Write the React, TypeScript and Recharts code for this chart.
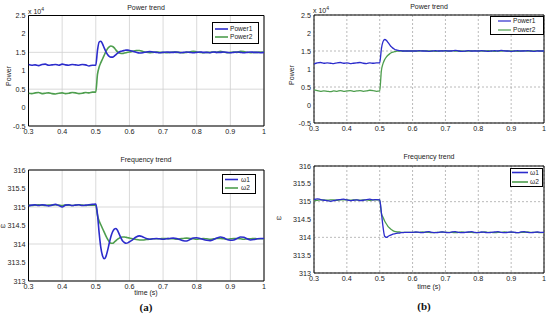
import React from "react";
import { LineChart, Line, XAxis, YAxis, CartesianGrid, ReferenceArea } from "recharts";

// time base (s): 10 ms steps, 5 ms around the step at 0.5 s
const time = [
  0.30, 0.31, 0.32, 0.33, 0.34, 0.35, 0.36, 0.37, 0.38, 0.39, 0.40, 0.41, 0.42, 0.43, 0.44, 0.45, 0.46, 0.47, 0.48, 0.49,
  0.500, 0.505, 0.510, 0.515, 0.520, 0.525, 0.530, 0.535, 0.540, 0.545, 0.550, 0.555, 0.560, 0.565, 0.570, 0.575, 0.580, 0.585, 0.590, 0.595, 0.600,
  0.61, 0.62, 0.63, 0.64, 0.65, 0.66, 0.67, 0.68, 0.69, 0.70, 0.71, 0.72, 0.73, 0.74, 0.75, 0.76, 0.77, 0.78, 0.79, 0.80,
  0.81, 0.82, 0.83, 0.84, 0.85, 0.86, 0.87, 0.88, 0.89, 0.90, 0.91, 0.92, 0.93, 0.94, 0.95, 0.96, 0.97, 0.98, 0.99, 1.00,
];

// power, x 10^4
const powerA1 = [
  1.17, 1.15, 1.16, 1.14, 1.17, 1.18, 1.15, 1.16, 1.17, 1.15, 1.18, 1.16, 1.15, 1.17, 1.16, 1.15, 1.17, 1.16, 1.13, 1.15,
  1.15, 1.55, 1.78, 1.80, 1.73, 1.62, 1.52, 1.44, 1.39, 1.37, 1.37, 1.40, 1.44, 1.48, 1.51, 1.53, 1.54, 1.55, 1.56, 1.56, 1.55,
  1.53, 1.50, 1.48, 1.49, 1.51, 1.52, 1.51, 1.50, 1.49, 1.50, 1.51, 1.50, 1.50, 1.51, 1.49, 1.50, 1.51, 1.50, 1.49, 1.50,
  1.51, 1.50, 1.50, 1.49, 1.51, 1.50, 1.50, 1.51, 1.50, 1.49, 1.50, 1.51, 1.50, 1.49, 1.50, 1.51, 1.50, 1.50, 1.49, 1.50,
];
const powerA2 = [
  0.39, 0.38, 0.40, 0.41, 0.38, 0.39, 0.40, 0.38, 0.37, 0.39, 0.40, 0.38, 0.39, 0.41, 0.40, 0.38, 0.39, 0.41, 0.40, 0.42,
  0.42, 0.90, 1.10, 1.22, 1.32, 1.42, 1.52, 1.60, 1.65, 1.67, 1.66, 1.62, 1.56, 1.51, 1.48, 1.47, 1.47, 1.48, 1.49, 1.50, 1.51,
  1.53, 1.55, 1.55, 1.52, 1.50, 1.49, 1.50, 1.51, 1.50, 1.50, 1.49, 1.50, 1.51, 1.50, 1.50, 1.49, 1.50, 1.51, 1.53, 1.51,
  1.50, 1.49, 1.50, 1.50, 1.51, 1.50, 1.53, 1.51, 1.49, 1.50, 1.51, 1.50, 1.53, 1.52, 1.50, 1.49, 1.50, 1.50, 1.51, 1.50,
];
const powerB1 = [
  1.14, 1.17, 1.18, 1.16, 1.17, 1.16, 1.15, 1.17, 1.18, 1.16, 1.17, 1.15, 1.16, 1.17, 1.18, 1.16, 1.15, 1.17, 1.16, 1.17,
  1.17, 1.55, 1.76, 1.82, 1.80, 1.74, 1.68, 1.62, 1.58, 1.55, 1.53, 1.52, 1.51, 1.51, 1.50, 1.50, 1.50, 1.50, 1.50, 1.50, 1.50,
  1.50, 1.51, 1.50, 1.50, 1.49, 1.50, 1.51, 1.50, 1.50, 1.51, 1.50, 1.50, 1.52, 1.50, 1.49, 1.50, 1.51, 1.50, 1.50, 1.50,
  1.51, 1.50, 1.49, 1.50, 1.51, 1.50, 1.52, 1.50, 1.50, 1.49, 1.50, 1.51, 1.50, 1.50, 1.51, 1.50, 1.49, 1.50, 1.50, 1.50,
];
const powerB2 = [
  0.42, 0.40, 0.38, 0.39, 0.38, 0.37, 0.39, 0.38, 0.40, 0.38, 0.39, 0.40, 0.38, 0.39, 0.40, 0.38, 0.39, 0.41, 0.40, 0.38,
  0.39, 0.95, 1.15, 1.26, 1.33, 1.38, 1.42, 1.45, 1.47, 1.48, 1.49, 1.50, 1.50, 1.50, 1.50, 1.50, 1.50, 1.50, 1.50, 1.50, 1.50,
  1.50, 1.50, 1.51, 1.50, 1.50, 1.50, 1.49, 1.50, 1.51, 1.50, 1.50, 1.51, 1.50, 1.50, 1.50, 1.49, 1.50, 1.50, 1.51, 1.50,
  1.50, 1.50, 1.51, 1.50, 1.49, 1.50, 1.50, 1.51, 1.50, 1.50, 1.50, 1.49, 1.50, 1.51, 1.50, 1.50, 1.50, 1.51, 1.50, 1.50,
];

// frequency (rad/s)
const freqA1 = [
  315.03, 315.05, 315.06, 315.04, 315.06, 315.05, 315.03, 315.05, 315.07, 315.04, 315.00, 315.05, 315.06, 315.04, 315.05, 315.06, 315.04, 315.05, 315.06, 315.07,
  315.08, 314.80, 314.30, 313.90, 313.68, 313.60, 313.66, 313.82, 314.02, 314.20, 314.33, 314.40, 314.42, 314.36, 314.26, 314.16, 314.08, 314.04, 314.02, 314.03, 314.06,
  314.12, 314.19, 314.22, 314.19, 314.15, 314.13, 314.14, 314.15, 314.14, 314.13, 314.14, 314.15, 314.16, 314.15, 314.12, 314.09, 314.08, 314.12, 314.16, 314.17,
  314.15, 314.12, 314.10, 314.09, 314.12, 314.16, 314.19, 314.17, 314.12, 314.10, 314.11, 314.15, 314.19, 314.18, 314.14, 314.11, 314.12, 314.14, 314.15, 314.15,
];
const freqA2 = [
  315.05, 315.04, 315.05, 315.06, 315.05, 315.04, 315.05, 315.05, 315.06, 315.05, 315.04, 315.05, 315.05, 315.04, 315.05, 315.06, 315.05, 315.04, 315.05, 315.05,
  315.05, 314.78, 314.62, 314.52, 314.42, 314.32, 314.22, 314.13, 314.06, 314.02, 314.02, 314.05, 314.09, 314.13, 314.16, 314.18, 314.19, 314.19, 314.18, 314.17, 314.16,
  314.14, 314.12, 314.11, 314.11, 314.12, 314.13, 314.14, 314.14, 314.14, 314.15, 314.15, 314.14, 314.14, 314.13, 314.14, 314.15, 314.16, 314.15, 314.14, 314.13,
  314.14, 314.15, 314.14, 314.13, 314.14, 314.15, 314.15, 314.14, 314.13, 314.14, 314.15, 314.15, 314.14, 314.13, 314.14, 314.14, 314.15, 314.14, 314.14, 314.14,
];
const freqB1 = [
  315.06, 315.08, 315.06, 315.04, 315.03, 315.01, 315.03, 315.05, 315.06, 315.07, 315.05, 315.03, 315.04, 315.05, 315.03, 315.04, 315.06, 315.07, 315.05, 315.06,
  315.05, 314.70, 314.30, 314.03, 314.00, 314.02, 314.05, 314.07, 314.09, 314.10, 314.11, 314.12, 314.12, 314.13, 314.13, 314.14, 314.14, 314.14, 314.14, 314.14, 314.14,
  314.15, 314.14, 314.13, 314.15, 314.16, 314.14, 314.13, 314.14, 314.15, 314.14, 314.13, 314.15, 314.16, 314.14, 314.13, 314.14, 314.15, 314.16, 314.14, 314.13,
  314.15, 314.14, 314.13, 314.14, 314.15, 314.16, 314.14, 314.13, 314.14, 314.15, 314.14, 314.13, 314.15, 314.16, 314.14, 314.13, 314.14, 314.15, 314.14, 314.14,
];
const freqB2 = [
  315.03, 315.04, 315.05, 315.05, 315.04, 315.05, 315.05, 315.04, 315.05, 315.05, 315.05, 315.04, 315.05, 315.05, 315.04, 315.05, 315.05, 315.04, 315.05, 315.05,
  315.05, 314.68, 314.56, 314.46, 314.38, 314.31, 314.26, 314.22, 314.19, 314.17, 314.16, 314.15, 314.15, 314.14, 314.14, 314.14, 314.14, 314.14, 314.14, 314.14, 314.14,
  314.14, 314.14, 314.15, 314.14, 314.14, 314.13, 314.14, 314.14, 314.15, 314.14, 314.14, 314.14, 314.13, 314.14, 314.15, 314.14, 314.14, 314.14, 314.13, 314.14,
  314.14, 314.15, 314.14, 314.14, 314.13, 314.14, 314.14, 314.15, 314.14, 314.14, 314.14, 314.13, 314.14, 314.14, 314.15, 314.14, 314.14, 314.14, 314.13, 314.14,
];

const timeTicks = [0.3, 0.4, 0.5, 0.6, 0.7, 0.8, 0.9, 1];
const powerTicks = [-0.5, 0, 0.5, 1, 1.5, 2, 2.5];
const freqTicks = [313, 313.5, 314, 314.5, 315, 315.5, 316];
const powerNames = ["Power1", "Power2"];
const freqNames = ["\u03c91", "\u03c92"];

const BLUE = "#2c2ccc";
const GREEN = "#4e9e4e";
const FONT = "Liberation Sans, Arial, sans-serif";

function build(s1: number[], s2: number[]) {
  return time.map((t, i) => ({ t, s1: s1[i], s2: s2[i] }));
}

type PanelProps = {
  box: [number, number, number, number]; // x1, y1, x2, y2 of plot area
  data: { t: number; s1: number; s2: number }[];
  domain: [number, number];
  ticks: number[];
  dashed: boolean;
  sw: number;
};

function Panel({ box, data, domain, ticks, dashed, sw }: PanelProps) {
  const [x1, y1, x2, y2] = box;
  const yw = 30;
  const xh = 16;
  const tick = { fontSize: 7.2, fill: "#222", fontFamily: FONT };
  return (
    <div style={{ position: "absolute", left: 0, top: 0 }}>
      <LineChart
        width={550}
        height={323}
        data={data}
        margin={{ left: x1 - yw, right: 550 - x2, top: y1, bottom: 323 - y2 - xh }}
      >
        <CartesianGrid
          stroke={dashed ? "#a8a8a8" : "#cfcfcf"}
          strokeDasharray={dashed ? "2 2" : undefined}
          strokeWidth={0.8}
        />
        <XAxis
          dataKey="t"
          type="number"
          domain={[0.3, 1]}
          ticks={timeTicks}
          allowDataOverflow
          height={xh}
          tickLine={false}
          axisLine={false}
          tickSize={2}
          tickMargin={1}
          tick={tick}
        />
        <YAxis
          type="number"
          domain={domain}
          ticks={ticks}
          allowDataOverflow
          width={yw}
          tickLine={false}
          axisLine={false}
          tickSize={2}
          tickMargin={1}
          tick={tick}
        />
        <ReferenceArea x1={0.3} x2={1} y1={domain[0]} y2={domain[1]} fill="none" stroke="#000" strokeWidth={1} />
        <Line type="monotone" dataKey="s2" stroke={GREEN} strokeWidth={sw} dot={false} isAnimationActive={false} />
        <Line type="monotone" dataKey="s1" stroke={BLUE} strokeWidth={sw} dot={false} isAnimationActive={false} />
      </LineChart>
    </div>
  );
}

type LegendProps = {
  left: number;
  top: number;
  width: number;
  height: number;
  names: string[];
  lineX: [number, number];
  textX: number;
  rows: [number, number];
  sw: number;
};

function LegendBox({ left, top, width, height, names, lineX, textX, rows, sw }: LegendProps) {
  const colors = [BLUE, GREEN];
  return (
    <svg width={width} height={height} style={{ position: "absolute", left, top }}>
      <rect x={0.5} y={0.5} width={width - 1} height={height - 1} fill="#fff" stroke="#000" strokeWidth={1} />
      {names.map((n, i) => (
        <g key={n}>
          <line x1={lineX[0]} x2={lineX[1]} y1={rows[i]} y2={rows[i]} stroke={colors[i]} strokeWidth={sw} />
          <text x={textX} y={rows[i]} dy="0.35em" fontSize={6.6} fontFamily={FONT} fill="#222">
            {n}
          </text>
        </g>
      ))}
    </svg>
  );
}

export default function App() {
  const txt = { fontFamily: FONT, fill: "#222" } as const;
  return (
    <div style={{ position: "absolute", left: 0, top: 0, width: 550, height: 323, background: "#fff" }}>
      <Panel box={[28.5, 15.5, 264, 126]} data={build(powerA1, powerA2)} domain={[-0.5, 2.5]} ticks={powerTicks} dashed={false} sw={1.6} />
      <Panel box={[28.5, 170, 264, 281]} data={build(freqA1, freqA2)} domain={[313, 316]} ticks={freqTicks} dashed={false} sw={1.6} />
      <Panel box={[314, 15, 544, 123]} data={build(powerB1, powerB2)} domain={[-0.5, 2.5]} ticks={powerTicks} dashed={true} sw={1.3} />
      <Panel box={[314, 166, 544, 273]} data={build(freqB1, freqB2)} domain={[313, 316]} ticks={freqTicks} dashed={true} sw={1.3} />

      <LegendBox left={212} top={22} width={47} height={22} names={powerNames} lineX={[3, 16]} textX={18} rows={[7, 15]} sw={1.6} />
      <LegendBox left={222} top={174} width={34} height={20} names={freqNames} lineX={[3, 16]} textX={19} rows={[5.5, 14]} sw={1.6} />
      <LegendBox left={490} top={16} width={54} height={19} names={powerNames} lineX={[8, 21]} textX={23} rows={[5, 14]} sw={1.2} />
      <LegendBox left={510} top={168} width={33} height={19} names={freqNames} lineX={[2, 18]} textX={20} rows={[4.5, 14]} sw={1.6} />

      <svg width={550} height={323} style={{ position: "absolute", left: 0, top: 0, pointerEvents: "none" }}>
        <text x={146} y={8} dy="0.35em" textAnchor="middle" fontSize={7} {...txt}>Power trend</text>
        <text x={146} y={160} dy="0.35em" textAnchor="middle" fontSize={7} {...txt}>Frequency trend</text>
        <text x={429} y={7} dy="0.35em" textAnchor="middle" fontSize={7} {...txt}>Power trend</text>
        <text x={429} y={157} dy="0.35em" textAnchor="middle" fontSize={7} {...txt}>Frequency trend</text>

        <text x={28} y={14} fontSize={7} {...txt}>
          x 10<tspan dy={-3} fontSize={5}>4</tspan>
        </text>
        <text x={313} y={13} fontSize={7} {...txt}>
          x 10<tspan dy={-3} fontSize={5}>4</tspan>
        </text>

        <text transform="translate(9,76) rotate(-90)" textAnchor="middle" dy="0.35em" fontSize={7} {...txt}>Power</text>
        <text transform="translate(292,75) rotate(-90)" textAnchor="middle" dy="0.35em" fontSize={7} {...txt}>Power</text>
        <text x={3} y={226} dy="0.35em" textAnchor="middle" fontSize={6.5} {...txt}>{"\u03c9"}</text>
        <text x={279} y={218} dy="0.35em" textAnchor="middle" fontSize={6.5} {...txt}>{"\u03c9"}</text>

        <text x={146} y={293} dy="0.35em" textAnchor="middle" fontSize={7} {...txt}>time (s)</text>
        <text x={429} y={287} dy="0.35em" textAnchor="middle" fontSize={7} {...txt}>time (s)</text>

        <text x={146} y={307} dy="0.35em" textAnchor="middle" fontSize={11} fontWeight="bold" fontFamily="Liberation Serif, serif" fill="#111">(a)</text>
        <text x={424} y={306} dy="0.35em" textAnchor="middle" fontSize={11} fontWeight="bold" fontFamily="Liberation Serif, serif" fill="#111">(b)</text>
      </svg>
    </div>
  );
}
